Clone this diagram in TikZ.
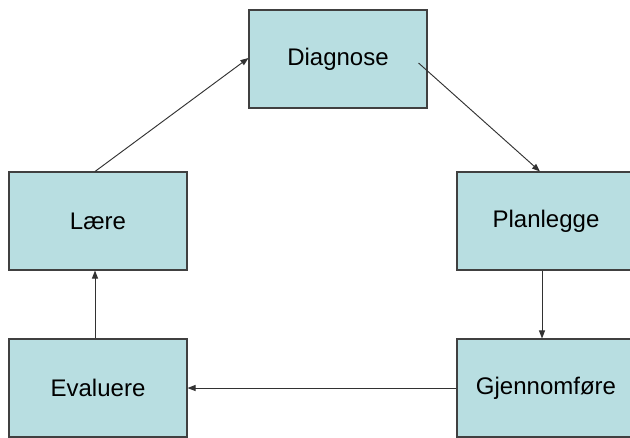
\documentclass[tikz,border=0pt]{standalone}
\usepackage{fontspec}
\setmainfont{Liberation Sans}
\usetikzlibrary{arrows.meta}
\definecolor{boxfill}{RGB}{184,222,225}
\definecolor{boxline}{RGB}{64,64,64}
\definecolor{arrowline}{RGB}{50,50,50}
\tikzset{
  stage/.style={draw=boxline, fill=boxfill, line width=0.8pt,
    minimum width=133.5pt, minimum height=73.5pt, inner sep=0pt,
    font=\fontsize{18}{22}\selectfont},
  flow/.style={draw=arrowline, line width=0.7pt,
    -{Triangle[length=6pt,width=4.5pt]}}
}
\begin{document}
\begin{tikzpicture}[x=0.75pt,y=-0.75pt]
  \useasboundingbox (0,0) rectangle (630,437);
  \fill[white] (0,0) rectangle (630,437);
  \clip (0,0) rectangle (630,437);

  % the five stages of the cycle
  \node[stage] (diag) at (338,59)  {Diagnose};
  \node[stage] (laere) at (98,221) {Lære};
  \node[stage] (plan) at (546,221) {Planlegge};
  \node[stage] (eval) at (98,388)  {Evaluere};
  \node[stage] (gjen) at (546,388) {Gjennomføre};

  % connectors around the cycle
  \draw[flow] ([xshift=-6.75pt,yshift=-3pt]diag.east) -- ([xshift=-4.5pt]plan.north);
  \draw[flow] ([xshift=-3pt]plan.south) -- ([xshift=-3pt]gjen.north);
  \draw[flow] (gjen.west) -- (eval.east);
  \draw[flow] ([xshift=-2.25pt]eval.north) -- ([xshift=-2.25pt]laere.south);
  \draw[flow] ([xshift=-2.25pt]laere.north) -- ([yshift=0.75pt]diag.west);
\end{tikzpicture}
\end{document}
